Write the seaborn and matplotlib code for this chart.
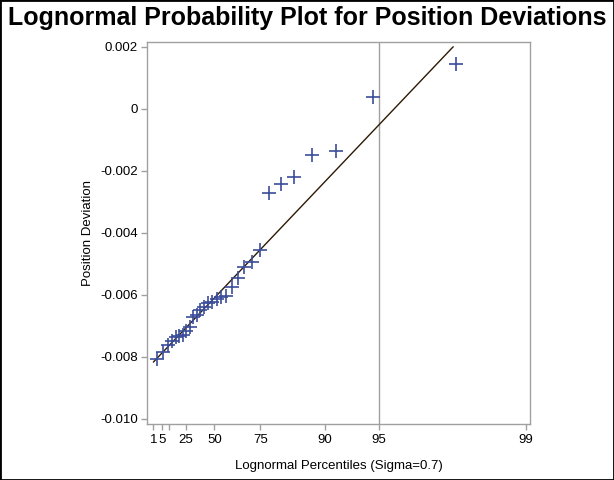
import numpy as np
import pandas as pd
import matplotlib
matplotlib.use('Agg')
import matplotlib.pyplot as plt
import seaborn as sns
from statistics import NormalDist

# ------------------------------------------------------------
# DATA (position deviations, sorted)
# ------------------------------------------------------------
deviation = [-0.00806, -0.00784, -0.00762, -0.00749, -0.00738, -0.00733,
             -0.00729, -0.00717, -0.00704, -0.00673, -0.00664, -0.00649,
             -0.00638, -0.00628, -0.00622, -0.00614, -0.00607, -0.00603,
             -0.00576, -0.00547, -0.00510, -0.00496, -0.00456, -0.00273,
             -0.00244, -0.00221, -0.00149, -0.00137, 0.00039, 0.00143]

sigma = 0.7
tick_pct = [1, 5, 10, 25, 50, 75, 90, 95, 99]
tick_labels = ['1', '5', '', '25', '50', '75', '90', '95', '99']
ref_pct = 95

# fitted lognormal reference line: y = threshold + scale * x
fit_threshold = -0.00868
fit_scale = 0.00258

y_ticks = [-0.010, -0.008, -0.006, -0.004, -0.002, 0.0, 0.002]
y_labels = ['-0.010', '-0.008', '-0.006', '-0.004', '-0.002', '0', '0.002']

# ------------------------------------------------------------
# LOGNORMAL QUANTILE SCALE
# ------------------------------------------------------------
nd = NormalDist()


def lognormal_q(pct):
    p = np.atleast_1d(pct) / 100.0
    return np.exp(sigma * np.array([nd.inv_cdf(v) for v in p]))


n = len(deviation)
plot_pos = (np.arange(1, n + 1) - 0.375) / (n + 0.25) * 100
df = pd.DataFrame({'q': lognormal_q(plot_pos), 'dev': np.sort(deviation)})

x_start = lognormal_q(1)[0]
x_end = (y_ticks[-1] - fit_threshold) / fit_scale
line_df = pd.DataFrame({'q': [x_start, x_end],
                        'dev': [fit_threshold + fit_scale * x_start,
                                fit_threshold + fit_scale * x_end]})

# ------------------------------------------------------------
# PLOT
# ------------------------------------------------------------
sns.set_theme(style='white')
plt.rcParams['font.family'] = ['Liberation Sans', 'DejaVu Sans']
plt.rcParams['text.color'] = 'black'
plt.rcParams['axes.labelcolor'] = 'black'

fig = plt.figure(figsize=(6.14, 4.8), dpi=100)
ax = fig.add_axes([0.240, 0.116, 0.624, 0.797])

axis_grey = '#a0a0a0'
ax.axvline(lognormal_q(ref_pct)[0], color=axis_grey, lw=1, zorder=1)

sns.lineplot(data=line_df, x='q', y='dev', ax=ax, color='#2e1a04', lw=1,
             estimator=None, sort=False, zorder=2)
sns.scatterplot(data=df, x='q', y='dev', ax=ax, marker='+', s=90,
                color='#3b4d9b', linewidth=1.2, zorder=3)

ax.set_xlim(0.1174, 5.156)
ax.set_ylim(-0.010181, 0.002161)

ax.set_xticks(lognormal_q(tick_pct))
ax.set_xticklabels(tick_labels)
ax.set_yticks(y_ticks)
ax.set_yticklabels(y_labels)

for spine in ax.spines.values():
    spine.set_color(axis_grey)
    spine.set_linewidth(1)
ax.tick_params(axis='both', which='major', direction='out', length=4,
               width=1, color=axis_grey, labelsize=9.5, labelcolor='black',
               bottom=True, left=True, pad=3)

ax.set_xlabel('Lognormal Percentiles (Sigma=0.7)', fontsize=9.5, labelpad=10)
ax.set_ylabel('Position Deviation', fontsize=9.5, labelpad=4)

fig.suptitle('Lognormal Probability Plot for Position Deviations',
             fontsize=18, fontweight='bold', color='black',
             x=0.5, y=0.987, va='top')

# black frame around the whole picture
fig.patches.append(plt.Rectangle((0, 0), 1, 1, transform=fig.transFigure,
                                 fill=False, edgecolor='black', lw=2))

fig.savefig('out.png', dpi=100)
